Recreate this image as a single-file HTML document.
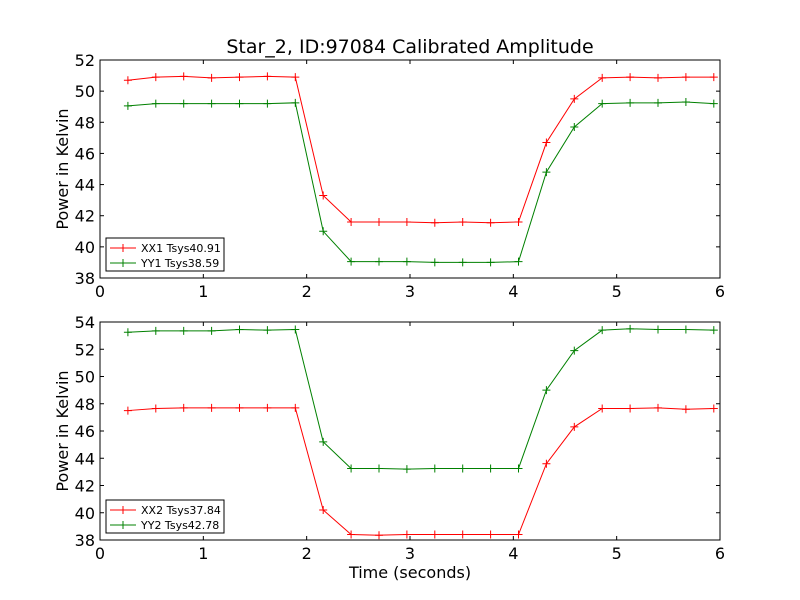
<!DOCTYPE html>
<html><head><meta charset="utf-8"><style>body{margin:0;background:#fff}svg{display:block;font-family:"DejaVu Sans","Liberation Sans",sans-serif}</style></head>
<body>
<svg id="c" width="800" height="600"></svg>
<script>
const times=[0.27,0.54,0.81,1.08,1.35,1.62,1.89,2.16,2.43,2.70,2.97,3.24,3.51,3.78,4.05,4.32,4.59,4.86,5.13,5.40,5.67,5.94];
const xx1=[50.7,50.9,50.95,50.85,50.9,50.95,50.9,43.3,41.6,41.6,41.6,41.55,41.6,41.55,41.6,46.7,49.5,50.85,50.9,50.85,50.9,50.9];
const yy1=[49.05,49.2,49.2,49.2,49.2,49.2,49.25,41.0,39.05,39.05,39.05,39.0,39.0,39.0,39.05,44.8,47.7,49.2,49.25,49.25,49.3,49.2];
const xx2=[47.5,47.65,47.7,47.7,47.7,47.7,47.7,40.2,38.4,38.35,38.4,38.4,38.4,38.4,38.4,43.6,46.3,47.65,47.65,47.7,47.6,47.65];
const yy2=[53.25,53.35,53.35,53.35,53.45,53.4,53.45,45.2,43.25,43.25,43.2,43.25,43.25,43.25,43.25,49.0,51.9,53.4,53.5,53.45,53.45,53.4];
const xTicks=[0,1,2,3,4,5,6];
const yTicksTop=[38,40,42,44,46,48,50,52];
const yTicksBot=[38,40,42,44,46,48,50,52,54];
const labelsTop=["XX1 Tsys40.91","YY1 Tsys38.59"];
const labelsBot=["XX2 Tsys37.84","YY2 Tsys42.78"];
const svg=document.getElementById('c');const NS='http://www.w3.org/2000/svg';
function mk(t,a,p,txt){const e=document.createElementNS(NS,t);for(const k in a)e.setAttribute(k,a[k]);if(txt!==undefined)e.textContent=txt;(p||svg).appendChild(e);return e;}
function panel(name,top,bot,ymin,ymax,yt,series,labels,xlabel){
 const L=100,R=720;
 const g=mk('g',{});
 const X=v=>L+(v-0)/6*(R-L), Y=v=>bot-(v-ymin)/(ymax-ymin)*(bot-top);
 mk('rect',{x:L,y:top,width:R-L,height:bot-top,fill:'#fff',stroke:'#000'},g);
 xTicks.forEach(t=>{const x=X(t);mk('line',{x1:x,x2:x,y1:bot,y2:bot-4,stroke:'#000'},g);mk('line',{x1:x,x2:x,y1:top,y2:top+4,stroke:'#000'},g);
  const e=mk('text',{x:x,y:bot+19,'text-anchor':'middle','font-size':16},g,t);});
 yt.forEach(t=>{const y=Y(t);mk('line',{x1:L,x2:L+4,y1:y,y2:y,stroke:'#000'},g);mk('line',{x1:R,x2:R-4,y1:y,y2:y,stroke:'#000'},g);
  const e=mk('text',{x:L-5,y:y+6,'text-anchor':'end','font-size':16},g,t);});
 const yl=mk('text',{x:68,y:(top+bot)/2,'text-anchor':'middle','font-size':16,transform:`rotate(-90 68 ${(top+bot)/2})`},g,'Power in Kelvin');
 
 series.forEach(([vals,col],i)=>{
  const pl=mk('polyline',{points:vals.map((v,j)=>X(times[j])+','+Y(v)).join(' '),fill:'none',stroke:col,'stroke-width':1},g);
  
  vals.forEach((v,j)=>{const x=X(times[j]),y=Y(v);mk('path',{d:`M${x-4},${y}H${x+4}M${x},${y-4}V${y+4}`,stroke:col},g);});
 });
 const lg=mk('g',{},g);
 const ly=bot-40;
 mk('rect',{x:106,y:ly,width:118,height:33,fill:'#fff',stroke:'#000'},lg);
 series.forEach(([v,col],i)=>{const yy=ly+10+i*15;
  mk('line',{x1:110,x2:136,y1:yy,y2:yy,stroke:col},lg);mk('path',{d:`M119,${yy}h8M123,${yy-4}v8`,stroke:col},lg);
  const t=mk('text',{x:141,y:yy+4,'font-size':11},lg,labels[i]);});
}
const tt=mk('text',{x:410,y:53,'text-anchor':'middle','font-size':19},svg,'Star_2, ID:97084 Calibrated Amplitude');

panel('top-panel',60,278,38,52,yTicksTop,[[xx1,'#ff0000'],[yy1,'#008000']],labelsTop);
panel('bottom-panel',322,540,38,54,yTicksBot,[[xx2,'#ff0000'],[yy2,'#008000']],labelsBot);
const xt=mk('text',{x:410,y:578,'text-anchor':'middle','font-size':16},svg,'Time (seconds)');

</script>
</body></html>
